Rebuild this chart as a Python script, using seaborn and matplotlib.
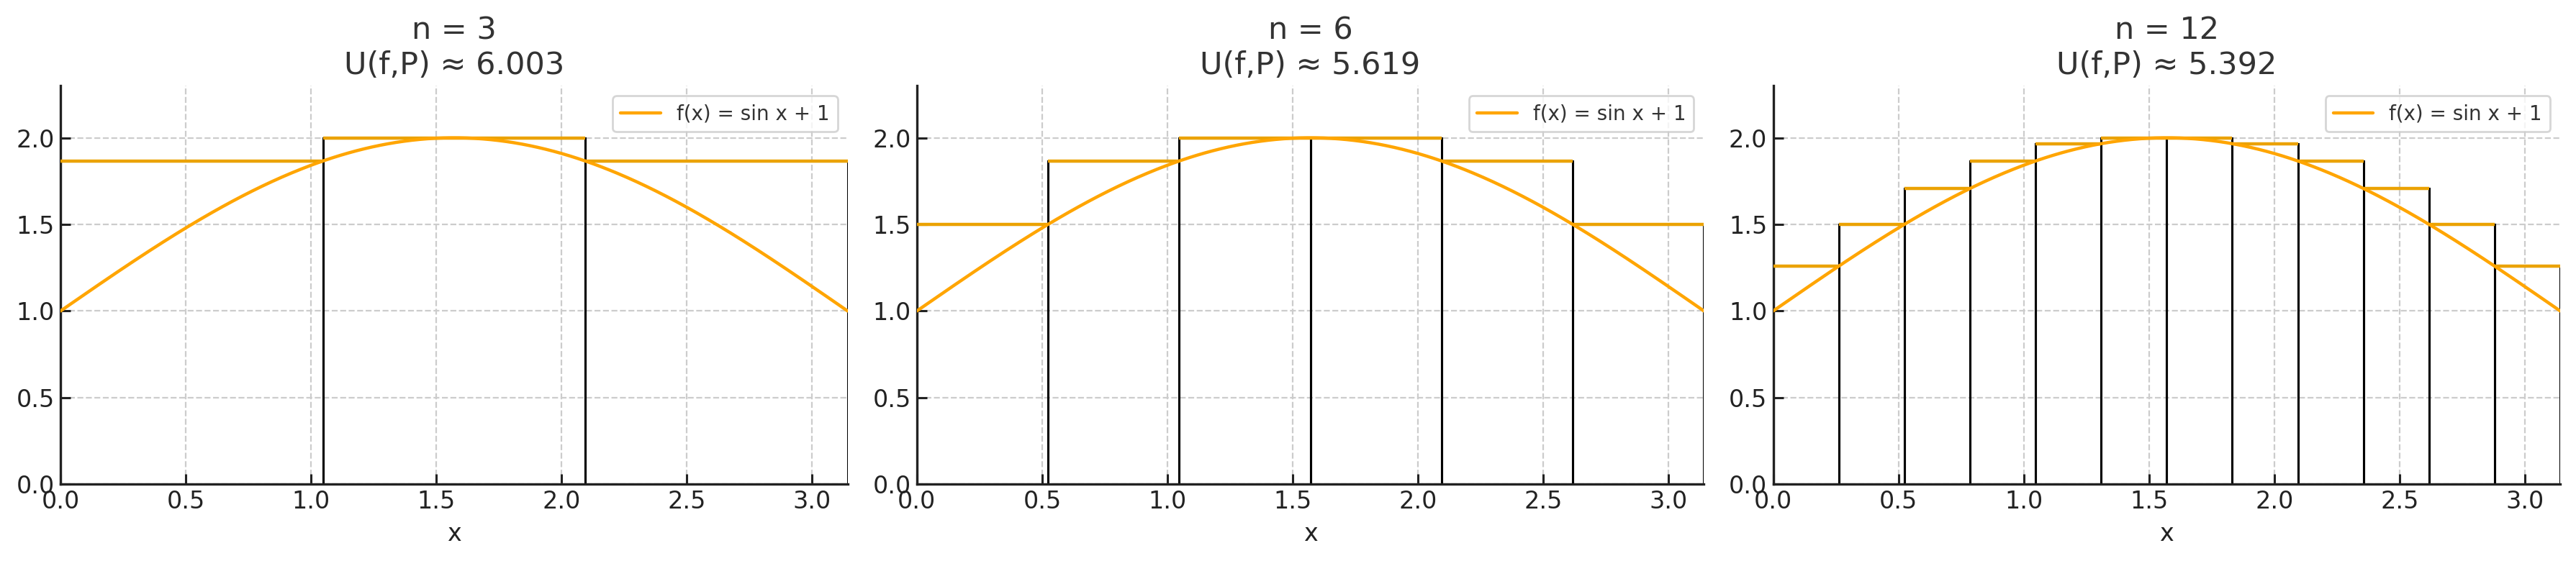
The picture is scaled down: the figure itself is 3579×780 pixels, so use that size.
import numpy as np
import matplotlib
matplotlib.use("Agg")
import matplotlib.pyplot as plt
import seaborn as sns
import pandas as pd

# ---- data ----
partitions = [3, 6, 12]
upper_sums = [6.003, 5.619, 5.392]
heights_n3 = [1.866, 2.000, 1.866]
heights_n6 = [1.500, 1.866, 2.000, 2.000, 1.866, 1.500]
heights_n12 = [1.259, 1.500, 1.707, 1.866, 1.966, 2.000,
               2.000, 1.966, 1.866, 1.707, 1.500, 1.259]
bar_heights = [heights_n3, heights_n6, heights_n12]
x_ticks = [0.0, 0.5, 1.0, 1.5, 2.0, 2.5, 3.0]
y_ticks = [0.0, 0.5, 1.0, 1.5, 2.0]
curve_label = "f(x) = sin x + 1"

# function named in the legend
x_curve = np.linspace(0, np.pi, 400)
curve_df = pd.DataFrame({"x": x_curve, "y": np.sin(x_curve) + 1})

sns.set_style("whitegrid", {"grid.linestyle": "--", "grid.color": "#cccccc",
                            "axes.edgecolor": "#222222",
                            "xtick.bottom": True, "ytick.left": True,
                            "xtick.direction": "in", "ytick.direction": "in"})
plt.rcParams["font.family"] = ["DejaVu Sans"]

fig, axes = plt.subplots(1, 3, figsize=(17.9, 3.9), dpi=200)
fig.subplots_adjust(left=0.0235, right=0.9936, top=0.847, bottom=0.137, wspace=0.088)

for ax, n, U, hs in zip(axes, partitions, upper_sums, bar_heights):
    w = np.pi / n
    lefts = np.arange(n) * w
    ax.bar(lefts, hs, width=w, align="edge", facecolor="none",
           edgecolor="black", linewidth=1.1, zorder=2)
    ax.hlines(hs, lefts, lefts + w, color="#EBA200", linewidth=1.6, zorder=3)
    sns.lineplot(data=curve_df, x="x", y="y", ax=ax, color="orange",
                 linewidth=1.6, label=curve_label, zorder=4)
    ax.set_xlim(0, np.pi)
    ax.set_ylim(0, 2.3)
    ax.set_xticks(x_ticks)
    ax.set_yticks(y_ticks)
    ax.set_xlabel("x", fontsize=12, color="#222222")
    ax.set_ylabel("")
    ax.tick_params(labelsize=12, length=5, width=1.1, colors="#222222", pad=3)
    ax.set_title(f"n = {n}\nU(f,P) ≈ {U:.3f}", fontsize=15.5, color="#333333")
    for s in ["top", "right"]:
        ax.spines[s].set_visible(False)
    for s in ["left", "bottom"]:
        ax.spines[s].set_linewidth(1.2)
    ax.grid(True, linestyle="--", color="#cccccc", linewidth=0.8)
    leg = ax.legend(loc="upper right", fontsize=10, frameon=True, fancybox=True)
    leg.get_frame().set_edgecolor("#cccccc")
    for t in leg.get_texts():
        t.set_color("#333333")

fig.savefig("out.png", dpi=200)
